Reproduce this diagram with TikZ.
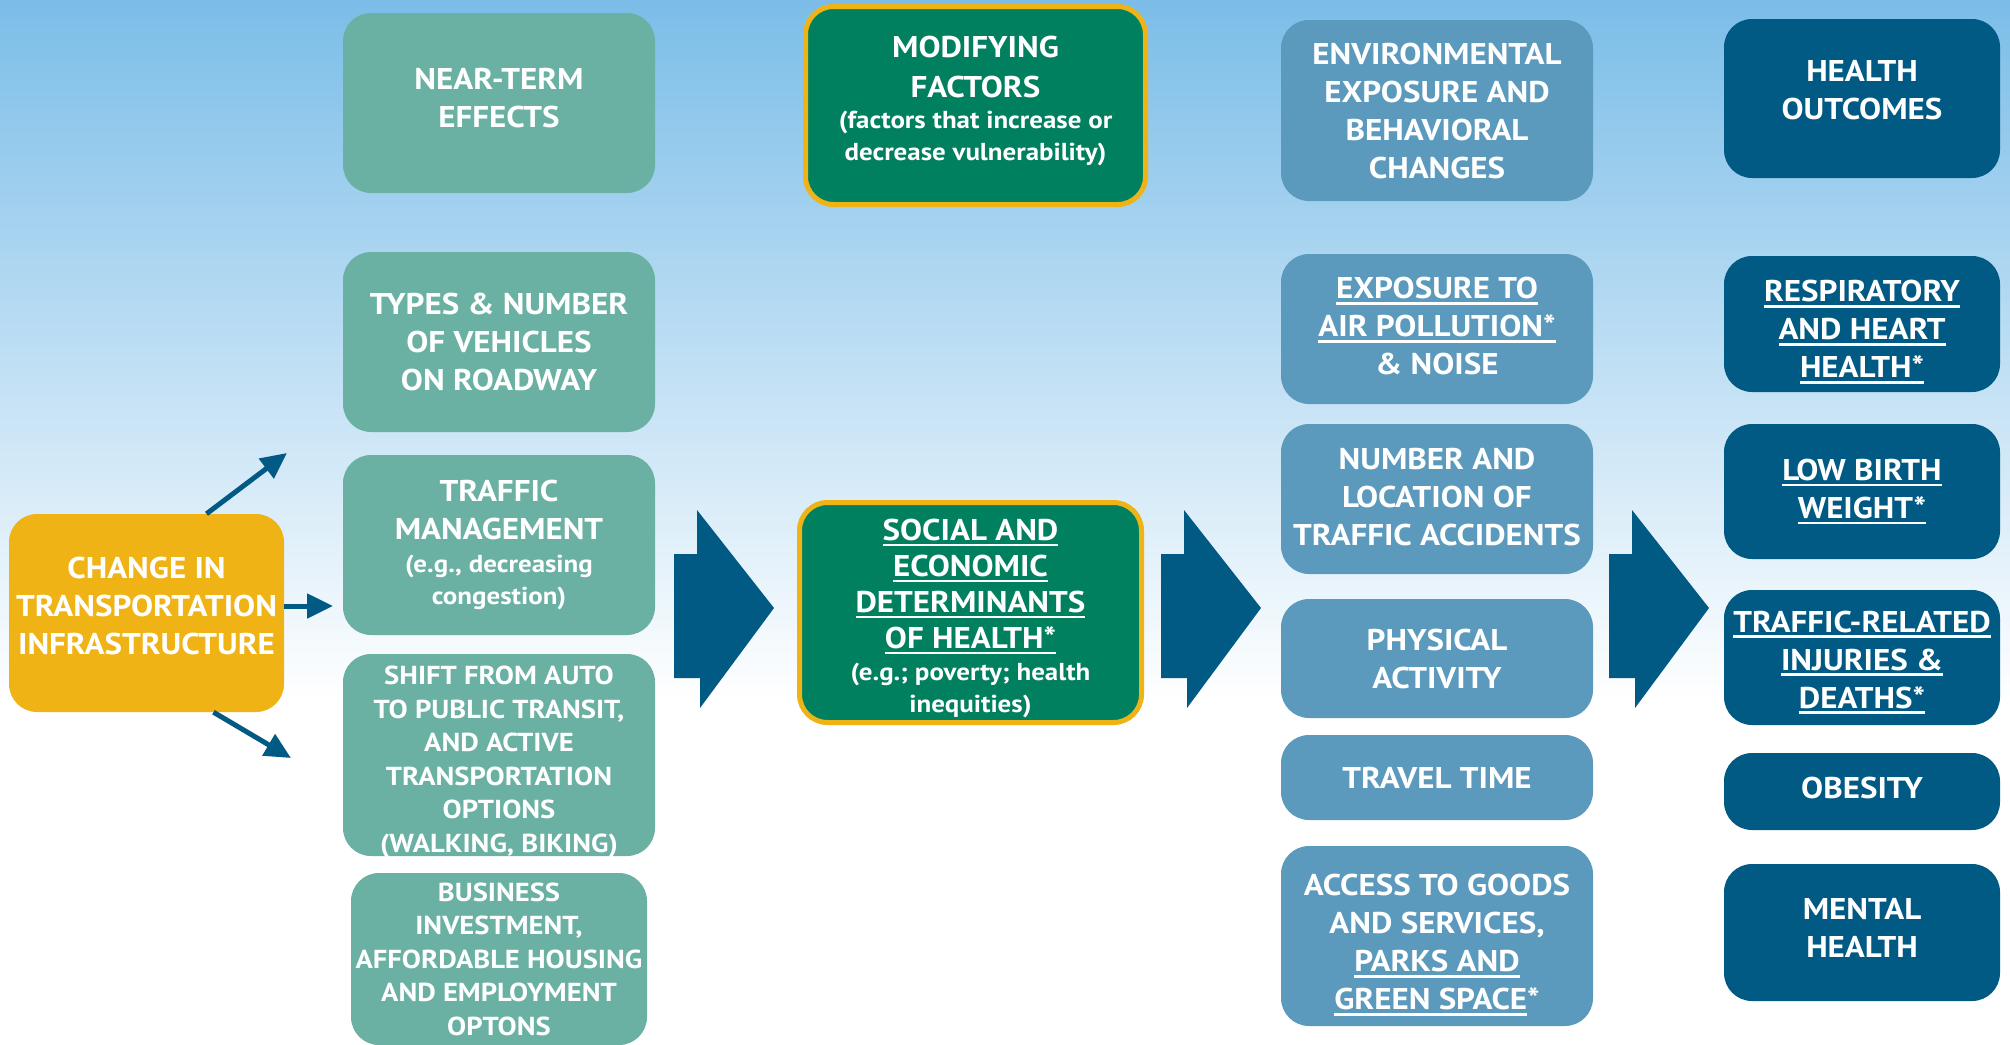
\documentclass[tikz,border=0pt]{standalone}
\usepackage{fontspec}
\setmainfont[FakeStretch=1.1]{PT Sans}
\usetikzlibrary{arrows.meta}
\definecolor{bgtop}{HTML}{7BBDE8}
\definecolor{nearteal}{HTML}{6AB1A3}
\definecolor{modgreen}{HTML}{00805F}
\definecolor{gold}{HTML}{F0B316}
\definecolor{expblue}{HTML}{5B9ABD}
\definecolor{outblue}{HTML}{005A84}
\newcommand{\subtxt}{\fontsize{24.5}{31}\selectfont}
\newcommand{\tallrow}[1]{\rule{0pt}{#1}}
\newsavebox{\ulnbox}
\newcommand{\uln}[1]{\leavevmode\sbox{\ulnbox}{#1}\rlap{\rule[-6pt]{\wd\ulnbox}{2.6pt}}\usebox{\ulnbox}}
\tikzset{
  box/.style={rounded corners=28pt,inner sep=0pt,align=center,text=white,
    font=\bfseries\fontsize{30}{38}\selectfont},
  nearbox/.style={box,fill=nearteal,minimum width=312pt},
  modbox/.style={box,fill=modgreen,draw=gold,line width=5pt},
  expbox/.style={box,fill=expblue,minimum width=312pt},
  outbox/.style={box,fill=outblue,minimum width=276pt},
  thinarrow/.style={outblue,line width=5pt,-{Triangle[length=26pt,width=24pt]}}
}
\begin{document}
\begin{tikzpicture}[x=1pt,y=-1pt]
\useasboundingbox (0,0) rectangle (2010,1044);
\clip (0,0) rectangle (2010,1044);
\shade[top color=bgtop,bottom color=white] (0,0) rectangle (2010,700);
\fill[white] (0,700) rectangle (2010,1044);

\node[box,fill=gold,minimum width=275pt,minimum height=198pt,text depth=14pt] (change) at (146.5,613)
  {CHANGE IN\\TRANSPORTATION\\INFRASTRUCTURE};
\coordinate (upend) at (287,453);
\coordinate (rightend) at (333,606);
\coordinate (downend) at (291,758);
\draw[thinarrow] ([xshift=60pt]change.north) -- (upend);
\draw[thinarrow] (change.east |- rightend) -- (rightend);
\draw[thinarrow] ([xshift=67pt]change.south) -- (downend);

\node[nearbox,minimum height=180pt,text depth=10pt] (near) at (499,103) {NEAR-TERM\\EFFECTS};
\node[nearbox,minimum height=180pt] (types) at (499,342) {TYPES \& NUMBER\\OF VEHICLES\\ON ROADWAY};
\node[nearbox,minimum height=180pt] (traffic) at (499,545)
  {TRAFFIC\\MANAGEMENT\\[-5pt]\subtxt (e.g., decreasing\\[-6pt]\subtxt congestion)};
\node[nearbox,minimum height=202pt,text depth=0pt,font=\bfseries\fontsize{26}{33.5}\selectfont] (shift) at (499,755)
  {\tallrow{27pt}SHIFT FROM AUTO\\TO PUBLIC TRANSIT,\\AND ACTIVE\\TRANSPORTATION\\OPTIONS\\(WALKING, BIKING)};
\node[nearbox,minimum width=296pt,minimum height=172pt,font=\bfseries\fontsize{26}{33.5}\selectfont] (business) at (499,959)
  {BUSINESS\\INVESTMENT,\\AFFORDABLE HOUSING\\AND EMPLOYMENT\\OPTONS};

\node[modbox,minimum width=340pt,minimum height=198pt,text depth=14pt] (modifying) at (975.5,105.5)
  {MODIFYING\\[2pt]FACTORS\\[-7pt]\subtxt (factors that increase or\\[-6pt]\subtxt decrease vulnerability)};
\node[modbox,minimum width=342pt,minimum height=220pt] (social) at (970.5,612.5)
  {\tallrow{33pt}\uln{SOCIAL AND}\\[-2pt]\uln{ECONOMIC}\\[-2pt]\uln{DETERMINANTS}\\[-2pt]\uln{OF HEALTH*}\\[-6pt]\subtxt (e.g.; poverty; health\\[-6pt]\subtxt inequities)};

\node[expbox,minimum height=181pt] (environment) at (1437,110.5) {ENVIRONMENTAL\\EXPOSURE AND\\BEHAVIORAL\\CHANGES};
\node[expbox,minimum height=150pt,text depth=6pt] (pollution) at (1437,329) {\uln{EXPOSURE TO}\\\uln{AIR POLLUTION*}\\\& NOISE};
\node[expbox,minimum height=150pt,text depth=5pt] (accidents) at (1437,499) {NUMBER AND\\LOCATION OF\\TRAFFIC ACCIDENTS};
\node[expbox,minimum height=119pt] (physical) at (1437,658.5) {PHYSICAL\\ACTIVITY};
\node[expbox,minimum height=85pt] (travel) at (1437,777.5) {TRAVEL TIME};
\node[expbox,minimum height=180pt,text depth=0pt] (access) at (1437,936) {\tallrow{33pt}ACCESS TO GOODS\\AND SERVICES,\\\uln{PARKS AND}\\\uln{GREEN SPACE}*};

\node[outbox,minimum height=159pt,text depth=18pt] (outcomes) at (1862,98.5) {HEALTH\\OUTCOMES};
\node[outbox,minimum height=136pt,text depth=0pt] (heart) at (1862,324) {\tallrow{31pt}\uln{RESPIRATORY}\\\uln{AND HEART}\\\uln{HEALTH*}};
\node[outbox,minimum height=135pt] (birth) at (1862,491.5) {\uln{LOW BIRTH}\\\uln{WEIGHT*}};
\node[outbox,minimum height=135pt,text depth=0pt] (injuries) at (1862,657.5) {\tallrow{25pt}\uln{TRAFFIC-RELATED}\\\uln{INJURIES \&}\\\uln{DEATHS*}};
\node[outbox,minimum height=77pt,text depth=8pt] (obesity) at (1862,791.5) {OBESITY};
\node[outbox,minimum height=137pt,text depth=10pt] (mental) at (1862,932.5) {MENTAL\\HEALTH};

\foreach \x in {674,1161,1609}
  \fill[outblue] (\x,554) -- (\x+23,554) -- (\x+23,510) -- (\x+100,608) -- (\x+26,708)
    -- (\x+26,678) -- (\x,678) -- cycle;
\end{tikzpicture}
\end{document}
